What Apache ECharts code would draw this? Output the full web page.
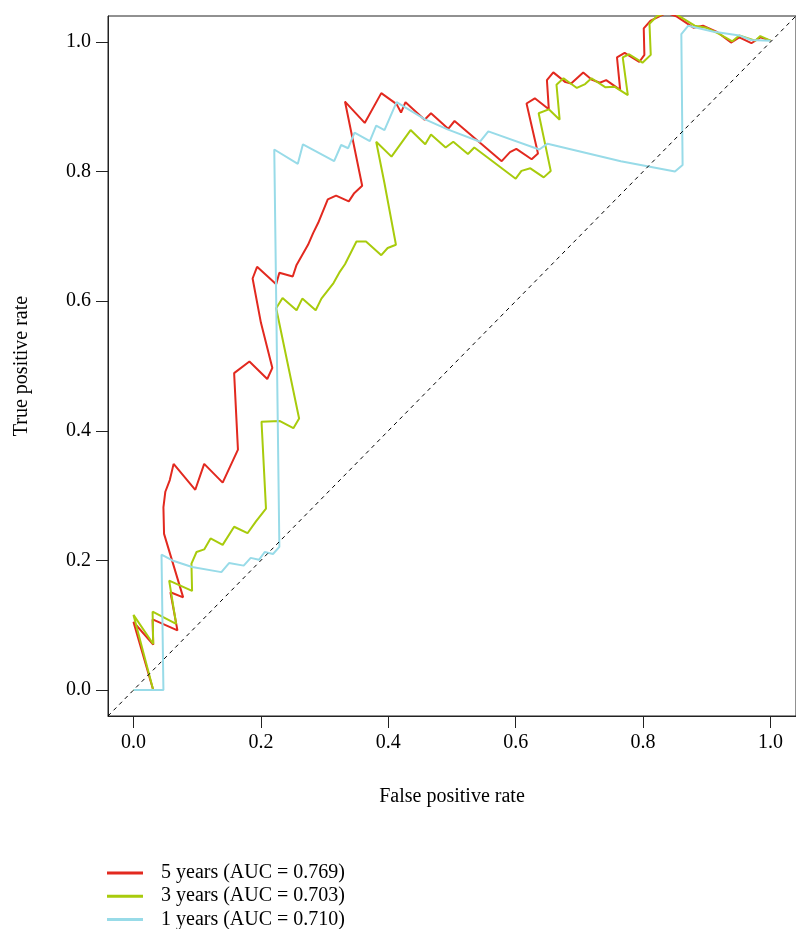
<!DOCTYPE html>
<html>
<head>
<meta charset="utf-8">
<script src="https://cdn.jsdelivr.net/npm/echarts@6/dist/echarts.min.js"></script>
<style>
  html, body { margin: 0; padding: 0; background: #fff; }
  #chart { width: 796px; height: 929px; }
</style>
</head>
<body>
<div id="chart"></div>
<script>
// ROC curves (false positive rate, true positive rate)
const fpr5 = [0.031, 0, 0.031, 0.030, 0.069, 0.058, 0.078, 0.048, 0.047, 0.050, 0.057, 0.063, 0.097, 0.111, 0.140, 0.164, 0.158, 0.182, 0.210, 0.218, 0.200, 0.187, 0.194, 0.224, 0.229, 0.250, 0.256, 0.274, 0.282, 0.290, 0.305, 0.318, 0.338, 0.346, 0.359, 0.332, 0.363, 0.389, 0.413, 0.420, 0.427, 0.457, 0.467, 0.494, 0.504, 0.578, 0.591, 0.601, 0.625, 0.635, 0.617, 0.630, 0.652, 0.649, 0.659, 0.678, 0.687, 0.706, 0.719, 0.732, 0.742, 0.764, 0.759, 0.771, 0.794, 0.802, 0.801, 0.812, 0.837, 0.853, 0.879, 0.894, 0.915, 0.938, 0.951, 0.970, 0.984, 1.0]
const tpr5 = [0, 0.105, 0.070, 0.109, 0.092, 0.151, 0.143, 0.241, 0.282, 0.306, 0.324, 0.349, 0.309, 0.349, 0.320, 0.371, 0.489, 0.507, 0.480, 0.497, 0.567, 0.635, 0.653, 0.626, 0.644, 0.638, 0.656, 0.687, 0.705, 0.721, 0.757, 0.763, 0.754, 0.766, 0.778, 0.908, 0.875, 0.921, 0.904, 0.891, 0.907, 0.880, 0.890, 0.866, 0.878, 0.816, 0.830, 0.835, 0.819, 0.828, 0.905, 0.913, 0.896, 0.941, 0.953, 0.938, 0.936, 0.953, 0.942, 0.937, 0.941, 0.926, 0.976, 0.983, 0.969, 0.980, 1.021, 1.033, 1.045, 1.039, 1.022, 1.025, 1.016, 0.999, 1.007, 0.998, 1.007, 1.002]

const fpr3 = [0, 0.031, 0, 0.031, 0.030, 0.067, 0.056, 0.092, 0.091, 0.099, 0.111, 0.121, 0.140, 0.158, 0.179, 0.192, 0.208, 0.201, 0.230, 0.251, 0.260, 0.224, 0.234, 0.256, 0.265, 0.286, 0.295, 0.314, 0.323, 0.332, 0.350, 0.365, 0.389, 0.399, 0.412, 0.394, 0.381, 0.405, 0.435, 0.458, 0.467, 0.490, 0.502, 0.525, 0.535, 0.600, 0.609, 0.623, 0.644, 0.655, 0.636, 0.652, 0.669, 0.664, 0.675, 0.696, 0.709, 0.719, 0.741, 0.755, 0.776, 0.768, 0.778, 0.799, 0.812, 0.810, 0.822, 0.845, 0.858, 0.881, 0.899, 0.920, 0.940, 0.951, 0.976, 0.984, 1.0]
const tpr3 = [0, 0, 0.116, 0.071, 0.121, 0.102, 0.169, 0.153, 0.195, 0.213, 0.217, 0.234, 0.224, 0.252, 0.242, 0.260, 0.280, 0.414, 0.415, 0.404, 0.419, 0.589, 0.605, 0.586, 0.604, 0.586, 0.604, 0.628, 0.644, 0.657, 0.692, 0.692, 0.671, 0.682, 0.687, 0.782, 0.846, 0.823, 0.864, 0.842, 0.857, 0.837, 0.846, 0.827, 0.837, 0.789, 0.801, 0.805, 0.791, 0.801, 0.890, 0.896, 0.880, 0.934, 0.944, 0.929, 0.935, 0.944, 0.930, 0.931, 0.918, 0.976, 0.981, 0.968, 0.980, 1.028, 1.040, 1.048, 1.039, 1.025, 1.022, 1.012, 1.001, 1.010, 1.002, 1.009, 1.002]

const fpr1 = [0, 0.047, 0.044, 0.061, 0.092, 0.138, 0.150, 0.173, 0.184, 0.197, 0.206, 0.219, 0.229, 0.221, 0.258, 0.266, 0.315, 0.326, 0.337, 0.347, 0.371, 0.381, 0.394, 0.413, 0.457, 0.493, 0.544, 0.557, 0.637, 0.650, 0.765, 0.850, 0.862, 0.860, 0.871, 0.909, 0.951, 0.969, 1.0]
const tpr1 = [0, 0, 0.209, 0.200, 0.190, 0.182, 0.196, 0.192, 0.204, 0.201, 0.213, 0.210, 0.221, 0.834, 0.812, 0.842, 0.816, 0.841, 0.836, 0.860, 0.847, 0.871, 0.864, 0.907, 0.881, 0.865, 0.846, 0.862, 0.834, 0.843, 0.816, 0.800, 0.810, 1.012, 1.025, 1.016, 1.010, 1.003, 1.002]

const seriesNames = ['5 years (AUC = 0.769)', '3 years (AUC = 0.703)', '1 years (AUC = 0.710)']
const seriesColors = ['#E2291F', '#A8CB0C', '#98DBE8']
const tickValues = [0, 0.2, 0.4, 0.6, 0.8, 1.0]
const diagonal = [[-0.04, -0.04], [1.04, 1.04]]

const zip = (xs, ys) => xs.map((x, i) => [x, ys[i]])
const curves = [zip(fpr5, tpr5), zip(fpr3, tpr3), zip(fpr1, tpr1)]

const font = 'Liberation Serif'

const axisCommon = {
  type: 'value',
  min: -0.04,
  max: 1.04,
  nameLocation: 'middle',
  nameTextStyle: { fontFamily: font, fontSize: 20, color: '#000' },
  splitLine: { show: false },
  axisLine: { show: true, onZero: false, lineStyle: { color: '#222', width: 1 } },
  axisTick: { show: true, customValues: tickValues, length: 12, lineStyle: { color: '#222' } },
  axisLabel: {
    customValues: tickValues,
    margin: 17,
    fontFamily: font,
    fontSize: 20,
    color: '#000',
    formatter: v => v.toFixed(1)
  }
}

const chart = echarts.init(document.getElementById('chart'))
chart.setOption({
  animation: false,
  grid: {
    left: 108,
    top: 16,
    width: 700,
    height: 700,
    show: true,
    borderColor: '#222',
    borderWidth: 1
  },
  xAxis: Object.assign({}, axisCommon, { name: 'False positive rate', nameGap: 71 }),
  yAxis: Object.assign({}, axisCommon, { name: 'True positive rate', nameGap: 76 }),
  legend: {
    orient: 'vertical',
    left: 107,
    top: 863,
    height: 90,
    padding: 0,
    icon: 'rect',
    itemWidth: 36,
    itemHeight: 3,
    itemGap: 3.2,
    data: seriesNames,
    textStyle: { fontFamily: font, fontSize: 20, color: '#000', lineHeight: 20, padding: [0, 0, 0, 13] }
  },
  series: [
    ...curves.map((data, i) => ({
      name: seriesNames[i],
      type: 'line',
      data: data,
      symbol: 'none',
      lineStyle: { color: seriesColors[i], width: 2 },
      itemStyle: { color: seriesColors[i] }
    })),
    {
      name: 'ref',
      type: 'line',
      data: diagonal,
      symbol: 'none',
      silent: true,
      lineStyle: { color: '#000', width: 1, type: [4, 4] }
    }
  ]
})
</script>
</body>
</html>
